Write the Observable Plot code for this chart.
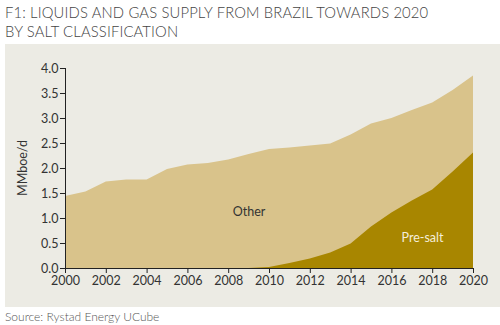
<!DOCTYPE html>
<html><head><meta charset="utf-8">
<script src="https://cdn.jsdelivr.net/npm/d3@7"></script>
<script src="https://cdn.jsdelivr.net/npm/@observablehq/plot@0.6"></script>
<style>
body{margin:0;background:#fff;font-family:Lato,"Open Sans",sans-serif;width:500px;height:325px;position:relative;overflow:hidden}
#t{position:absolute;left:5px;top:3px;font-size:14.8px;line-height:19px;color:#444;font-weight:300;letter-spacing:0.15px}
#panel{position:absolute;left:5px;top:44px;width:495px;height:263px;background:#ecebe4}
#src{position:absolute;left:5px;top:309px;font-size:12px;color:#555;font-weight:300}
</style></head><body>
<div id="t">F1: LIQUIDS AND GAS SUPPLY FROM BRAZIL TOWARDS 2020<br>BY SALT CLASSIFICATION</div>
<div id="panel"></div>
<div id="src">Source: Rystad Energy UCube</div>
<script>
const years = [2000,2001,2002,2003,2004,2005,2006,2007,2008,2009,2010,2011,2012,2013,2014,2015,2016,2017,2018,2019,2020];
const total = [1.44,1.53,1.73,1.77,1.77,1.98,2.07,2.10,2.17,2.28,2.38,2.41,2.45,2.49,2.67,2.89,3.00,3.16,3.31,3.56,3.85];
const preSalt = [0,0,0,0,0,0,0,0,0,0,0.02,0.10,0.19,0.31,0.49,0.83,1.11,1.35,1.57,1.93,2.31];
const yTicks = [0,0.5,1,1.5,2,2.5,3,3.5,4];
const xTicks = [2000,2002,2004,2006,2008,2010,2012,2014,2016,2018,2020];

const data = years.map((y,i)=>({year:y,total:total[i],pre:preSalt[i]}));
const chart = Plot.plot({
  width:495, height:263,
  marginLeft:60, marginRight:27, marginTop:24, marginBottom:39,
  style:{background:"transparent", fontFamily:"Lato, 'Open Sans', sans-serif", fontSize:"12.5px", color:"#333"},
  x:{domain:[2000,2020], ticks:xTicks, tickFormat:d=>String(d), label:null},
  y:{domain:[0,4], ticks:yTicks, tickFormat:d=>d.toFixed(1), label:null},
  marks:[
    Plot.areaY(data,{x:"year",y1:0,y2:"total",fill:"#d9c38b"}),
    Plot.areaY(data,{x:"year",y1:0,y2:"pre",fill:"#a88600"}),
    Plot.axisX({ticks:xTicks, tickFormat:d=>String(d), tickSize:5, tickPadding:3, fontSize:12.5, stroke:"#222", color:"#333", label:null}),
    Plot.axisY({ticks:yTicks, tickFormat:d=>d.toFixed(1), tickSize:5, tickPadding:2, fontSize:12.5, stroke:"#222", color:"#333", label:null}),
    Plot.ruleX([2000],{stroke:"#222"}),
    Plot.ruleY([0],{stroke:"#222"}),
    Plot.text(["Other"],{x:2009.0,y:1.14,text:d=>d,fontSize:12.5,fill:"#333"}),
    Plot.text(["Pre-salt"],{x:2017.5,y:0.62,text:d=>d,fontSize:12.5,fill:"#f5eedb"})
  ]
});
const lab = document.createElementNS("http://www.w3.org/2000/svg","text");
lab.setAttribute("transform","translate(22,124) rotate(-90)");
lab.setAttribute("text-anchor","middle");
lab.setAttribute("font-size","12.5");
lab.setAttribute("fill","#333");
lab.textContent="MMboe/d";
chart.appendChild(lab);
document.getElementById("panel").appendChild(chart);
</script>
</body></html>
